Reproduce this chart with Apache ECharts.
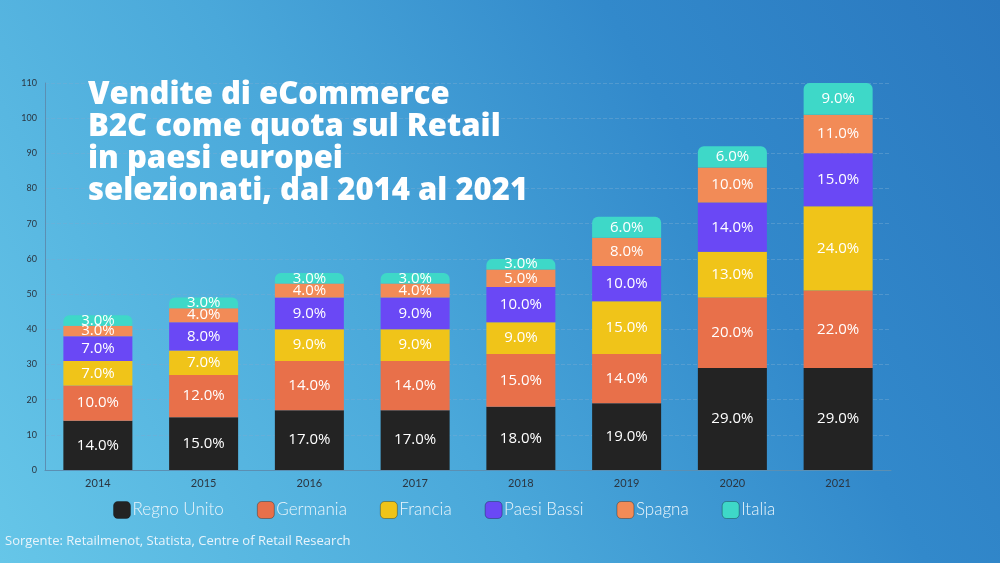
<!DOCTYPE html>
<html><head><meta charset="utf-8">
<script src="https://cdn.jsdelivr.net/npm/echarts@6/dist/echarts.min.js"></script>
<style>
html,body{margin:0;padding:0;width:1000px;height:563px;overflow:hidden;}
body{background:linear-gradient(60deg,#66c6e8 0%,#4aa8da 40%,#3289cb 70%,#2a78bf 100%);}
#c{width:1000px;height:563px;}
</style></head><body><div id="c"></div>
<script>
const years = ['2014','2015','2016','2017','2018','2019','2020','2021'];
const regnoUnito = [14,15,17,17,18,19,29,29];
const germania   = [10,12,14,14,15,14,20,22];
const francia    = [7,7,9,9,9,15,13,24];
const paesiBassi = [7,8,9,9,10,10,14,15];
const spagna     = [3,4,4,4,5,8,10,11];
const italia     = [3,3,3,3,3,6,6,9];
const seriesNames = ['Regno Unito','Germania','Francia','Paesi Bassi','Spagna','Italia'];
const seriesData = [regnoUnito,germania,francia,paesiBassi,spagna,italia];
const colors = ['#232323','#e8704a','#f0c419','#6a48f5','#f28b57','#3ed8c8'];

const chart = echarts.init(document.getElementById('c'));
const series = seriesData.map((d,i)=>({
  name: seriesNames[i], type:'bar', stack:'total', data:d, barWidth:69,
  itemStyle:{color:colors[i], borderRadius: i===5?[6,6,0,0]:0},
  label:{show:true, position:'inside', formatter:p=>p.value.toFixed(1)+'%',
    color:'#fff', fontFamily:'Open Sans', fontSize:15}
}));
chart.setOption({
  backgroundColor:'transparent',
  animation:false,
  title:{text:'Vendite di eCommerce\nB2C come quota sul Retail\nin paesi europei\nselezionati, dal 2014 al 2021',
    left:83, top:74,
    textStyle:{color:'#fff', fontFamily:'Open Sans', fontWeight:800, fontSize:31, lineHeight:32}},
  graphic:[{type:'text', left:5, top:535, style:{text:'Sorgente: Retailmenot, Statista, Centre of Retail Research',
    fill:'#e8f4fb', font:'13px "Open Sans"'}}],
  legend:{bottom:39, left:108, itemWidth:17, itemHeight:17, itemGap:33,
    icon:'roundRect',
    itemStyle:{borderColor:'rgba(0,0,0,0.3)', borderWidth:1},
    textStyle:{color:'#e8f4fb', fontFamily:'Lato', fontWeight:300, fontSize:17, padding:[0,0,0,-3]}},
  grid:{left:45, right:109, top:83, bottom:93},
  xAxis:{type:'category', data:years,
    axisLine:{lineStyle:{color:'#5b8fb3'}},
    axisTick:{alignWithLabel:true, length:4, lineStyle:{color:'#5b8fb3'}},
    axisLabel:{color:'#2b3540', fontFamily:'Lato', fontSize:11, margin:8}},
  yAxis:{type:'value', min:0, max:110, interval:10,
    axisLine:{show:true, lineStyle:{color:'#5b8fb3'}},
    axisTick:{show:false},
    axisLabel:{color:'#2b3540', fontFamily:'Lato', fontSize:9, margin:8},
    splitLine:{lineStyle:{color:'rgba(120,170,210,0.45)', type:'dashed'}}},
  series
});
</script></body></html>
